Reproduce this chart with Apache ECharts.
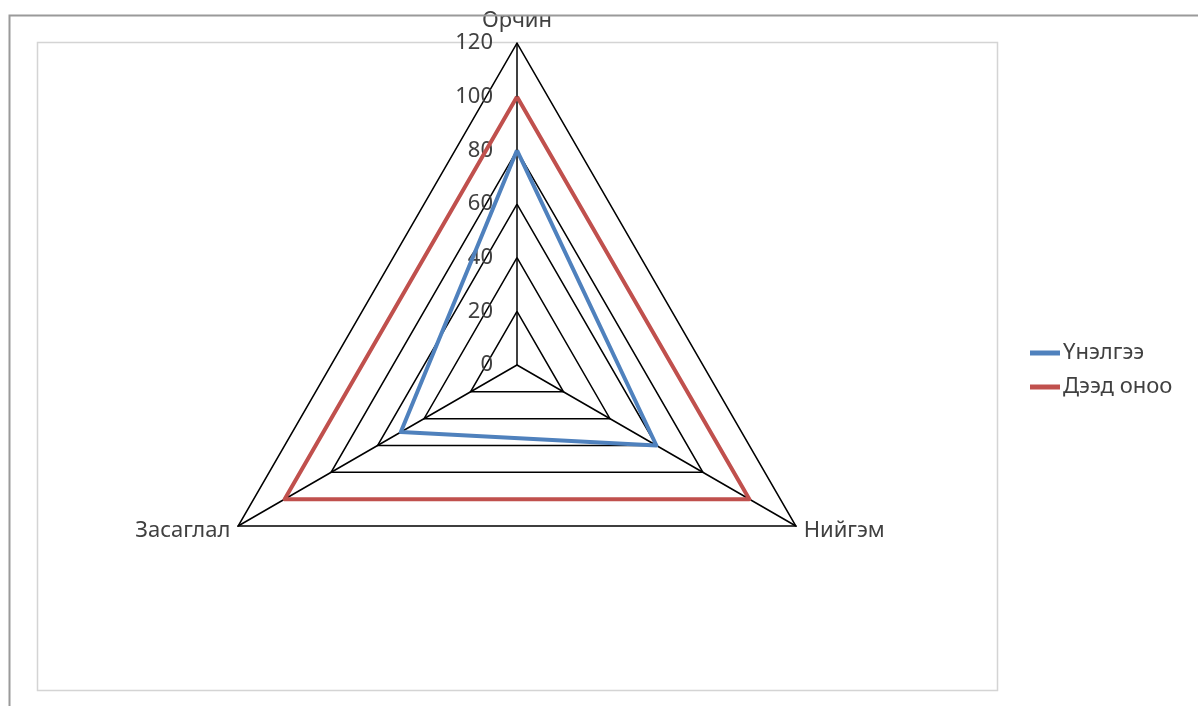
<!DOCTYPE html>
<html><head><meta charset="utf-8">
<script src="https://cdn.jsdelivr.net/npm/echarts@6/dist/echarts.min.js"></script>
<style>html,body{margin:0;padding:0;background:#fff}#c{width:1198px;height:706px}</style>
</head><body><div id="c"></div>
<script>
// indicators listed in ECharts drawing order (counter-clockwise from top)
const indicators = ['Орчин', 'Засаглал', 'Нийгэм'];
const seriesNames = ['Үнэлгээ', 'Дээд оноо'];
const valuesScore = [80, 50, 60];
const valuesMax = [100, 100, 100];
const axisMax = 120;

const chart = echarts.init(document.getElementById('c'));
const font = 'Noto Sans';
chart.setOption({
  animation: false,
  graphic: [
    { type: 'polyline', shape: { points: [[9.5, 706], [9.5, 15.5], [1198, 15.5]] }, style: { stroke: '#9a9a9a', lineWidth: 2, fill: null }, z: 100 },
    { type: 'rect', shape: { x: 37.5, y: 42.5, width: 960, height: 648 }, style: { stroke: '#d4d4d4', lineWidth: 1.5, fill: null }, z: -1 }
  ],
  legend: {
    orient: 'vertical', left: 1025, top: 337,
    itemWidth: 30, itemHeight: 5, itemGap: 12, icon: 'rect',
    textStyle: { fontFamily: font, fontSize: 22, color: '#404040', padding: [0, 0, 0, -2] },
    data: seriesNames
  },
  radar: {
    center: [517, 365], radius: 322, startAngle: 90, shape: 'polygon',
    splitNumber: 6,
    indicator: indicators.map((n, i) => ({
      name: n, min: 0, max: axisMax,
      axisLabel: i === 0 ? { show: true } : { show: false }
    })),
    axisName: { color: '#404040', fontFamily: font, fontSize: 22 },
    nameGap: 9,
    axisLine: { lineStyle: { color: '#000', width: 1.5 } },
    splitLine: { lineStyle: { color: '#000', width: 1.5 } },
    splitArea: { show: false },
    axisTick: { show: false },
    axisLabel: { show: false, color: '#404040', fontFamily: font, fontSize: 22, margin: 24, align: 'right', verticalAlign: 'middle' }
  },
  series: [{
    type: 'radar', symbol: 'none',
    data: [
      { name: seriesNames[0], value: valuesScore, lineStyle: { color: '#4F81BD', width: 4 }, itemStyle: { color: '#4F81BD' } },
      { name: seriesNames[1], value: valuesMax, lineStyle: { color: '#C0504D', width: 4 }, itemStyle: { color: '#C0504D' } }
    ]
  }]
});
</script></body></html>
